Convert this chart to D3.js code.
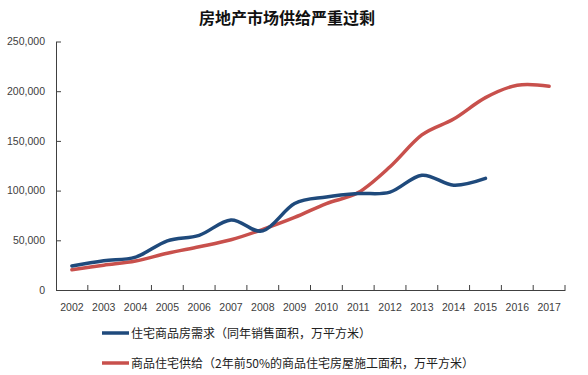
<!DOCTYPE html>
<html><head><meta charset="utf-8">
<script src="https://cdn.jsdelivr.net/npm/d3@7"></script>
<style>body{margin:0;background:#fff;} svg{display:block;}</style>
</head><body>
<svg id="chart" width="588" height="375"></svg>
<script>
const years = ["2002","2003","2004","2005","2006","2007","2008","2009","2010","2011","2012","2013","2014","2015","2016","2017"];
const demand = [24100, 29500, 33000, 49500, 55000, 70500, 59500, 87000, 93500, 97000, 98500, 115500, 105500, 112300, null, null];
const supply = [20400, 25000, 29200, 37000, 43500, 50500, 61000, 73000, 87000, 98000, 124000, 156000, 172000, 193500, 206000, 205000];
const yTicks = [0, 50000, 100000, 150000, 200000, 250000];
const titleText = "房地产市场供给严重过剩";
const demandLabel = "住宅商品房需求（同年销售面积，万平方米）";
const supplyLabel = "商品住宅供给（2年前50%的商品住宅房屋施工面积，万平方米）";

const svg = d3.select("#chart");
const L = 56, R = 565, T = 41.5, B = 290;
const x = d3.scaleBand().domain(years).range([L, R]).padding(0);
const y = d3.scaleLinear().domain([0, 250000]).range([B, T]);
const fmt = d3.format(",");
const font = "'Liberation Sans', Arial, sans-serif";

svg.append("text").attr("x", 287).attr("y", 24).attr("text-anchor", "middle")
  .attr("font-family", "'Noto Sans CJK SC', sans-serif").attr("font-weight", "bold")
  .attr("font-size", 16).attr("fill", "#111").text(titleText);

const ya = svg.append("g").attr("transform", `translate(${L},0)`)
  .call(d3.axisLeft(y).tickValues(yTicks).tickFormat(fmt).tickSize(-5).tickPadding(11).tickSizeOuter(0));
const xa = svg.append("g").attr("transform", `translate(0,${B})`)
  .call(d3.axisBottom(x).tickSize(0).tickPadding(14).tickSizeOuter(0));
// category boundary ticks
svg.append("g").selectAll("line").data(years.slice(1).concat(["end"]))
  .join("line")
  .attr("x1", (d, i) => x(years[i]) + x.bandwidth()).attr("x2", (d, i) => x(years[i]) + x.bandwidth())
  .attr("y1", B).attr("y2", B - 5).attr("stroke", "#404040").attr("stroke-width", 1);

[ya, xa].forEach(g => {
  g.selectAll("path").attr("stroke", "#404040");
  g.selectAll("line").attr("stroke", "#404040");
  g.selectAll("text").attr("font-family", font).attr("font-size", 10.5).attr("fill", "#404040");
});

const line = d3.line()
  .defined(d => d.v != null)
  .x(d => x(d.k) + x.bandwidth() / 2)
  .y(d => y(d.v))
  .curve(d3.curveCardinal.tension(0));

const series = [
  {name: supplyLabel, vals: supply, color: "#c8504c"},
  {name: demandLabel, vals: demand, color: "#1f4a7c"}
];
series.forEach(s => {
  svg.append("path")
    .datum(years.map((k, i) => ({k, v: s.vals[i]})).filter(d => d.v != null))
    .attr("d", line).attr("fill", "none").attr("stroke", s.color)
    .attr("stroke-width", 3.5).attr("stroke-linecap", "round").attr("stroke-linejoin", "round");
});

const legend = [
  {name: demandLabel, color: "#1f4a7c", y: 333},
  {name: supplyLabel, color: "#c8504c", y: 363}
];
legend.forEach(l => {
  svg.append("line").attr("x1", 102).attr("x2", 129).attr("y1", l.y).attr("y2", l.y)
    .attr("stroke", l.color).attr("stroke-width", 3.5);
  svg.append("text").attr("x", 131).attr("y", l.y + 4.5)
    .attr("font-family", "'Noto Sans CJK SC', sans-serif").attr("font-size", 12)
    .attr("fill", "#222").text(l.name);
});
</script>
</body></html>
